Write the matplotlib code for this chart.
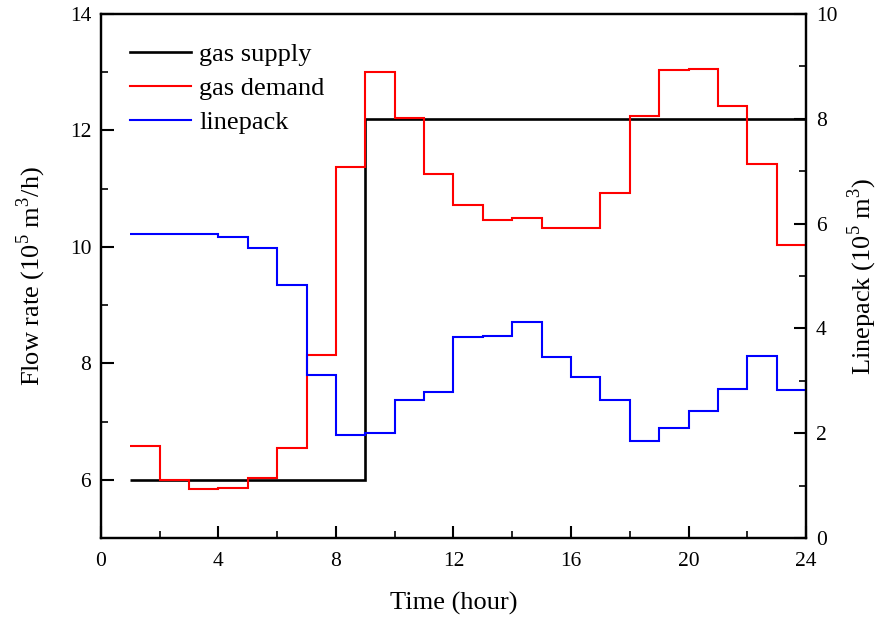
import matplotlib
matplotlib.use("Agg")
import matplotlib.pyplot as plt
from matplotlib.ticker import MultipleLocator
import numpy as np

plt.rcParams['font.family'] = ['Liberation Serif', 'DejaVu Serif']
plt.rcParams['mathtext.fontset'] = 'custom'
plt.rcParams['mathtext.rm'] = 'Liberation Serif'

hour_edges = list(range(1, 25))  # 1..24
gas_supply = [6.0] * 8 + [12.2] * 15
gas_demand = [6.58, 6.0, 5.84, 5.86, 6.03, 6.54, 8.15, 11.37, 13.01, 12.21,
              11.25, 10.72, 10.47, 10.49, 10.32, 10.33, 10.92, 12.24, 13.04,
              13.06, 12.42, 11.42, 10.03]
linepack = [5.81, 5.80, 5.795, 5.75, 5.54, 4.82, 3.11, 1.96, 2.00, 2.63, 2.78,
            3.84, 3.86, 4.12, 3.46, 3.07, 2.64, 1.85, 2.10, 2.42, 2.84, 3.47,
            2.82]

fig = plt.figure(figsize=(8.81, 6.19), dpi=100)
ax = fig.add_axes([0.1146, 0.1309, 0.8003, 0.8465])
ax2 = ax.twinx()

s1 = ax.stairs(gas_supply, hour_edges, color='black', linewidth=1.9,
               baseline=None, label='gas supply')
s2 = ax.stairs(gas_demand, hour_edges, color='#ff0000', linewidth=1.5,
               baseline=None, label='gas demand')
s3 = ax2.stairs(linepack, hour_edges, color='#0000ff', linewidth=1.5,
                baseline=None, label='linepack')

ax.set_xlim(0, 24)
ax.set_ylim(5, 14)
ax2.set_ylim(0, 10)

ax.xaxis.set_major_locator(MultipleLocator(4))
ax.xaxis.set_minor_locator(MultipleLocator(2))
ax.set_yticks([6, 8, 10, 12, 14])
ax.yaxis.set_minor_locator(MultipleLocator(1))
ax2.yaxis.set_major_locator(MultipleLocator(2))
ax2.yaxis.set_minor_locator(MultipleLocator(1))

for a in (ax, ax2):
    a.tick_params(which='major', direction='in', length=9, width=1.5,
                  labelsize=15.5, pad=7)
    a.tick_params(which='minor', direction='in', length=5, width=1.2)
    for sp in a.spines.values():
        sp.set_linewidth(1.6)
ax.tick_params(axis='x', which='major', pad=10)
ax.tick_params(axis='x', which='both', top=False)
ax.tick_params(axis='y', which='both', right=False)

ax.set_xlabel('Time (hour)', fontsize=19, labelpad=15)
ax.set_ylabel(r'Flow rate (10$^5$ m$^3$/h)', fontsize=19, labelpad=16)
ax2.set_ylabel(r'Linepack (10$^5$ m$^3$)', fontsize=19, labelpad=6)

ax.legend(handles=[s1, s2, s3], loc='upper left', frameon=False,
          fontsize=19, handlelength=2.3, handletextpad=0.3,
          labelspacing=0.4, bbox_to_anchor=(0.008, 0.991))

fig.savefig('out.png', dpi=100)
